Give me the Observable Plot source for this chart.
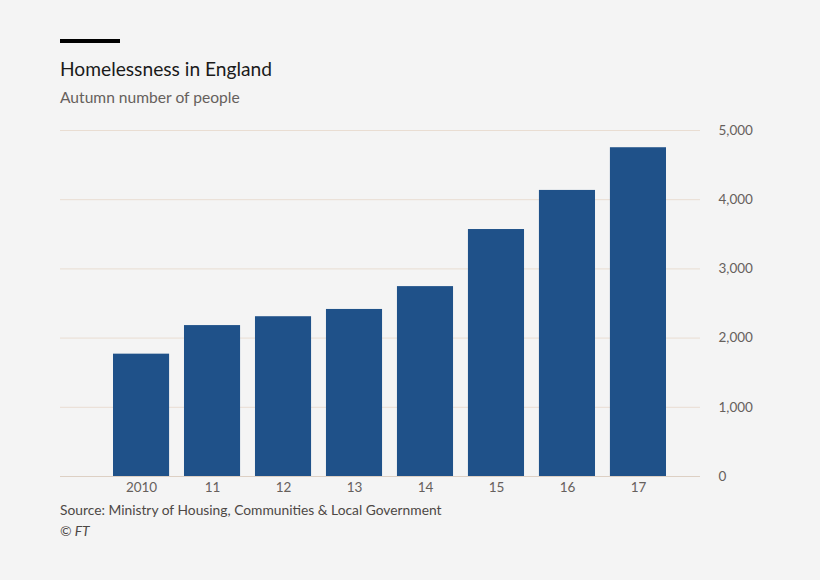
<!DOCTYPE html>
<html>
<head>
<meta charset="utf-8">
<script src="https://cdn.jsdelivr.net/npm/d3@7"></script>
<script src="https://cdn.jsdelivr.net/npm/@observablehq/plot@0.6"></script>
<style>
  html, body { margin: 0; padding: 0; background: #f4f4f4; width: 820px; height: 580px; overflow: hidden; font-family: Lato, "Open Sans", sans-serif; }
  #wrap { position: relative; width: 820px; height: 580px; }
  .bar { position: absolute; left: 60px; top: 39px; width: 60px; height: 4px; background: #000; }
  .title { position: absolute; left: 60px; top: 58px; font-size: 19.2px; line-height: 22px; color: #1a1a1a; }
  .subtitle { position: absolute; left: 60px; top: 88px; font-size: 15.6px; line-height: 18px; color: #66605c; }
  .source { position: absolute; left: 60px; top: 502px; font-size: 13.8px; line-height: 16px; color: #4d4845; }
  .ft { position: absolute; left: 60px; top: 523px; font-size: 13.8px; line-height: 16px; color: #4d4845; font-style: italic; }
  #chart { position: absolute; left: 0; top: 115px; }
</style>
</head>
<body>
<div id="wrap">
  <div class="bar"></div>
  <div class="title">Homelessness in England</div>
  <div class="subtitle">Autumn number of people</div>
  <div id="chart"></div>
  <div class="source">Source: Ministry of Housing, Communities &amp; Local Government</div>
  <div class="ft">© FT</div>
</div>
<script>
const years = ["2010", "11", "12", "13", "14", "15", "16", "17"];
const people = [1768, 2181, 2309, 2414, 2744, 3569, 4134, 4751];
const yTicks = [0, 1000, 2000, 3000, 4000, 5000];

const data = years.map((y, i) => ({year: y, value: people[i]}));

const chart = Plot.plot({
  width: 820,
  height: 385,
  marginTop: 15,
  marginBottom: 24,
  marginLeft: 60,
  marginRight: 120,
  style: {background: "transparent", fontFamily: "Lato, 'Open Sans', sans-serif", fontSize: "13.5px", color: "#66605c"},
  x: {domain: years, range: [113, 666], paddingInner: 0.21, paddingOuter: 0, round: false, label: null},
  y: {domain: [0, 5000], label: null},
  marks: [
    Plot.ruleY(yTicks.filter(d => d > 0), {stroke: "#e9ddd2", strokeWidth: 1}),
    Plot.barY(data, {x: "year", y: "value", fill: "#1f5189"}),
    Plot.ruleY([0], {stroke: "#ddd0c4", strokeWidth: 1}),
    Plot.axisY({anchor: "right", ticks: yTicks, tickSize: 0, tickPadding: 18, tickFormat: d3.format(","), label: null, fill: "#66605c", textAnchor: "start"}),
    Plot.axisX({anchor: "bottom", tickSize: 0, tickPadding: 6, label: null, fill: "#66605c"})
  ]
});
document.getElementById("chart").appendChild(chart);
</script>
</body>
</html>
